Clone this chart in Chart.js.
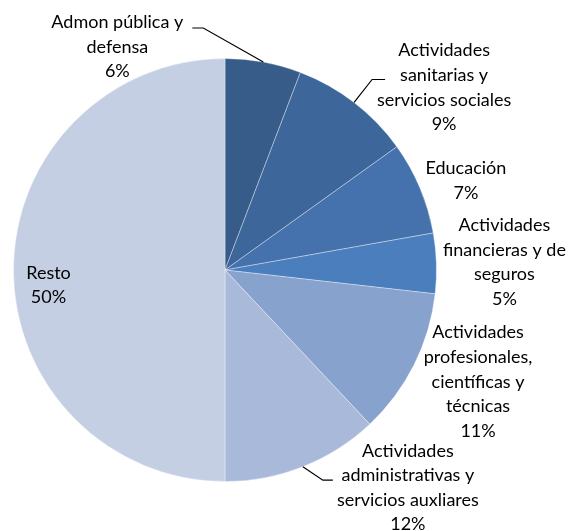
<!DOCTYPE html>
<html>
<head>
<meta charset="utf-8">
<script src="https://cdn.jsdelivr.net/npm/chart.js@4/dist/chart.umd.min.js"></script>
<style>
  html, body { margin: 0; padding: 0; background: #fff; }
  #pie { display: block; }
</style>
</head>
<body>
<canvas id="pie" width="573" height="531"></canvas>
<script>
var sectors = [
    ['Admon pública y', 'defensa'],
    ['Actividades', 'sanitarias y', 'servicios sociales'],
    ['Educación'],
    ['Actividades', 'financieras y de', 'seguros'],
    ['Actividades', 'profesionales,', 'científicas y', 'técnicas'],
    ['Actividades', 'administrativas y', 'servicios auxliares'],
    ['Resto']
];
var shares = [5.8, 9.3, 7.1, 4.6, 11.2, 12.0, 50.0];
var colors = ['#375c8a', '#3d669b', '#4572ad', '#4b7ebd', '#86a2cd', '#a9b9da', '#c4cfe3'];

// label block offset from the slice's outer mid point, plus optional leader line
var labelPlace = [
    { dx: -146, dy: -15, leader: [[86, -19], [75, -19]] },
    { dx: 90, dy: -15, leader: [[-72, -8], [-59, -8]] },
    { dx: 46, dy: -7 },
    { dx: 68, dy: -1 },
    { dx: 64, dy: 17 },
    { dx: 105, dy: 21, leader: [[-85, -7.5], [-75, -7.5]] },
    { dx: 35, dy: 15 }
];

var lineH = 24.6;

var pieLabels = {
    id: 'pieLabels',
    afterDatasetsDraw: function (chart) {
        var ctx = chart.ctx;
        var meta = chart.getDatasetMeta(0);
        var total = shares.reduce(function (a, b) { return a + b; }, 0);
        ctx.save();
        ctx.font = '18px Lato';
        ctx.fillStyle = '#000';
        ctx.textAlign = 'center';
        ctx.textBaseline = 'middle';
        for (let i = 0; i < meta.data.length; i++) {
            var arc = meta.data[i];
            var mid = (arc.startAngle + arc.endAngle) / 2;
            var ex = arc.x + Math.cos(mid) * arc.outerRadius;
            var ey = arc.y + Math.sin(mid) * arc.outerRadius;
            var p = labelPlace[i];
            var cx = ex + p.dx, cy = ey + p.dy;
            var lines = sectors[i].concat([Math.round(shares[i] / total * 100) + '%']);
            var top = cy - (lines.length - 1) * lineH / 2;
            for (let j = 0; j < lines.length; j++) {
                ctx.fillText(lines[j], cx, top + j * lineH);
            }
            if (p.leader) {
                ctx.beginPath();
                ctx.strokeStyle = '#000';
                ctx.lineWidth = 1.2;
                ctx.moveTo(ex, ey);
                ctx.lineTo(cx + p.leader[0][0], cy + p.leader[0][1]);
                ctx.lineTo(cx + p.leader[1][0], cy + p.leader[1][1]);
                ctx.stroke();
            }
        }
        ctx.restore();
    }
};

new Chart(document.getElementById('pie'), {
    type: 'pie',
    data: {
        labels: sectors.map(function (s) { return s.join(' '); }),
        datasets: [{
            data: shares,
            backgroundColor: colors,
            borderColor: 'rgba(255,255,255,0.35)',
            borderWidth: 1
        }]
    },
    options: {
        responsive: false,
        animation: false,
        layout: { padding: { left: 13, top: 58, right: 136, bottom: 49 } },
        plugins: {
            legend: { display: false },
            tooltip: { enabled: false }
        }
    },
    plugins: [pieLabels]
});
</script>
</body>
</html>
